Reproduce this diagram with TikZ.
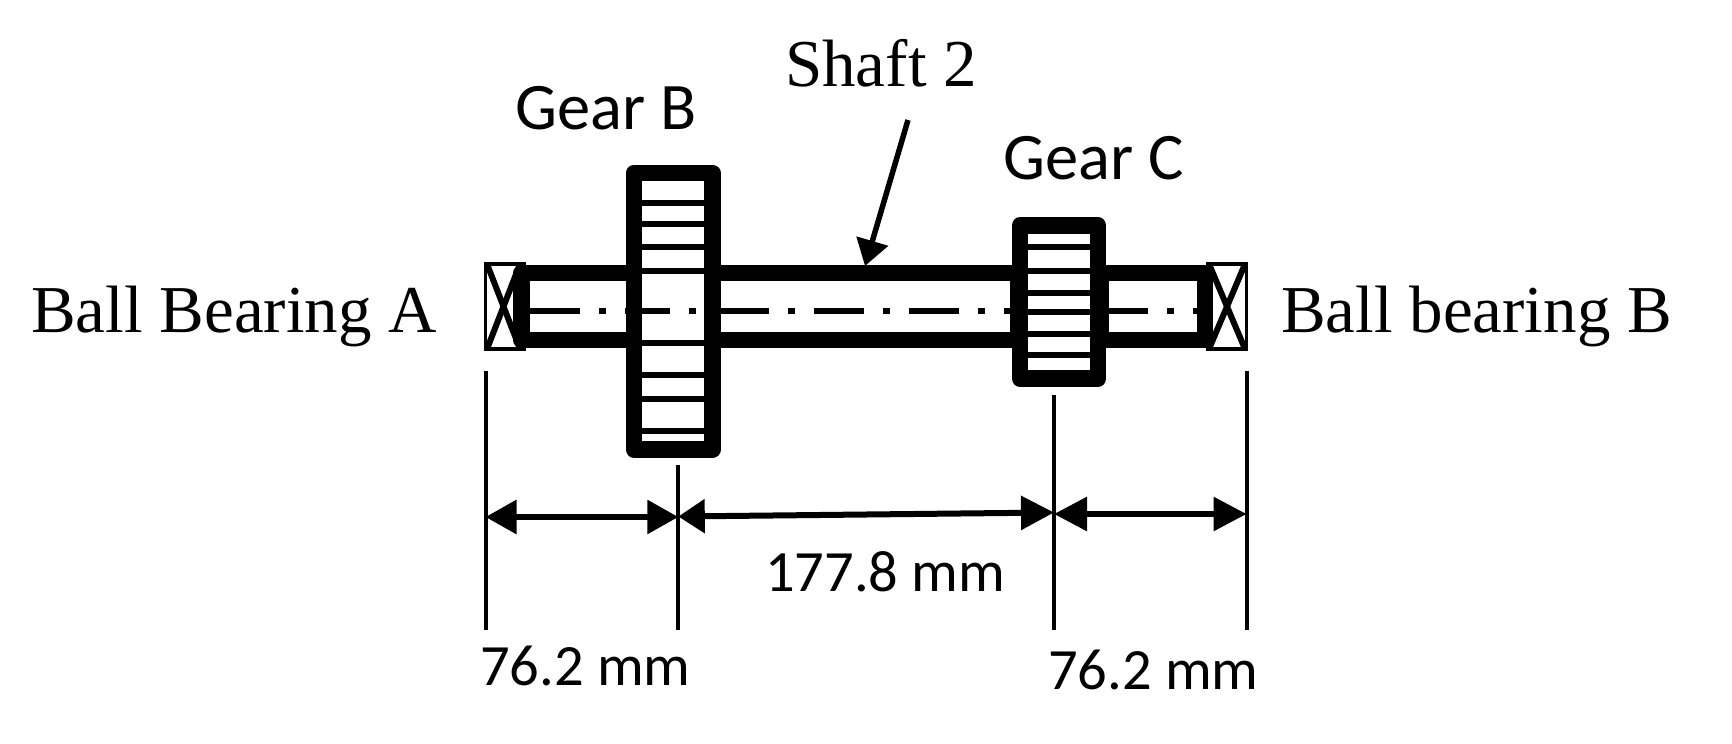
\documentclass[tikz,border=0pt]{standalone}
\usepackage{fontspec}
\setmainfont{Liberation Serif}
\newfontfamily\calibrifont{Carlito}
\usetikzlibrary{arrows.meta}
\tikzset{
	serif label/.style={anchor=base west, inner sep=0, font=\fontsize{67}{70}\selectfont},
	gear label/.style={anchor=base west, inner sep=0, font=\calibrifont\fontsize{66.5}{70}\selectfont},
	dim label/.style={anchor=base west, inner sep=0, font=\calibrifont\fontsize{58.5}{60}\selectfont},
	wall/.style={line width=16.5, line join=round},
	tooth/.style={line width=6},
	witness/.style={line width=4},
	dim line/.style={line width=6, {Triangle[length=#1,width=33]}-{Triangle[length=#1,width=33]}}
}

\begin{document}
\begin{tikzpicture}[x=1pt, y=-1pt]
	\useasboundingbox (0, 0) rectangle (1732, 744);
	%%%%% BEARINGS %%%%%
	\draw[line width=3.5, fill=white] (485.5, 264) rectangle (524.5, 349);
	\draw[line width=6] (487, 264) -- (520, 349);
	\draw[line width=6] (520, 264) -- (487, 349);
	\draw[line width=3.5, fill=white] (1208, 264) rectangle (1246.5, 349);
	\draw[line width=6] (1209, 264) -- (1245, 349);
	\draw[line width=6] (1245, 264) -- (1209, 349);

	%%%%% SHAFT %%%%%
	\draw[wall] (521.5, 273) rectangle (1205, 340);
	\draw[line width=6, dash pattern=on 50 off 19 on 6.7 off 19] (530, 311.3) -- (1197, 311.3);

	%%%%% GEAR B %%%%%
	\draw[wall, fill=white] (634, 173) rectangle (712.5, 449.5);
	\draw[tooth] (642, 203.3) -- (704, 203.3);
	\draw[tooth] (642, 224.3) -- (704, 224.3);
	\draw[tooth] (642, 247.3) -- (704, 247.3);
	\draw[tooth] (642, 271) -- (704, 271);
	\draw[tooth] (642, 311.3) -- (670, 311.3);
	\draw[tooth] (689, 311.3) -- (696, 311.3);
	\draw[tooth] (642, 343.3) -- (704, 343.3);
	\draw[tooth] (642, 375) -- (704, 375);
	\draw[tooth] (642, 399.3) -- (704, 399.3);
	\draw[tooth] (642, 431.3) -- (704, 431.3);

	%%%%% GEAR C %%%%%
	\draw[fill=black, draw=none] (1009.7, 281) rectangle (1109, 332);
	\draw[wall, fill=white] (1020, 225.5) rectangle (1098, 378.5);
	\draw[tooth] (1028, 247.3) -- (1090, 247.3);
	\draw[tooth] (1028, 271) -- (1090, 271);
	\draw[tooth] (1028, 293) -- (1090, 293);
	\draw[tooth] (1028, 311.5) -- (1090, 311.5);
	\draw[tooth] (1028, 334) -- (1090, 334);
	\draw[tooth] (1028, 354.7) -- (1090, 354.7);

	%%%%% DIMENSIONS %%%%%
	\coordinate (leftTop) at (485.5, 371);
	\coordinate (leftBot) at (485.5, 630);
	\coordinate (gearBTop) at (678.3, 465);
	\coordinate (gearBBot) at (678.3, 630);
	\coordinate (gearCTop) at (1054, 395);
	\coordinate (gearCBot) at (1054, 630);
	\coordinate (rightTop) at (1246.5, 371);
	\coordinate (rightBot) at (1246.5, 630);
	\draw[witness] (leftTop) -- (leftBot);
	\draw[witness] (gearBTop) -- (gearBBot);
	\draw[witness] (gearCTop) -- (gearCBot);
	\draw[witness] (rightTop) -- (rightBot);

	\coordinate (dimA) at (485.5, 517);
	\coordinate (dimB) at (678.3, 517);
	\coordinate (dimBb) at (678.3, 516.5);
	\coordinate (dimC) at (1054, 512.5);
	\coordinate (dimCc) at (1054, 514);
	\coordinate (dimD) at (1246.5, 514);
	\draw[dim line=31] (dimA) -- (dimB);
	\draw[line width=6, {Triangle[length=26.5,width=33]}-{Triangle[length=33,width=33]}] (dimBb) -- (dimC);
	\draw[dim line=33] (dimCc) -- (dimD);

	\node[dim label] (dimLeft) at (480, 685) {76.2 mm};
	\node[dim label] (dimMid) at (765, 591) {177.8 mm};
	\node[dim label] (dimRight) at (1048, 689) {76.2 mm};

	%%%%% LABELS %%%%%
	\node[serif label] (bearingA) at (31, 332) {Ball Bearing A};
	\node[serif label] (bearingB) at (1281, 332) {Ball bearing B};
	\node[serif label] (shaftLabel) at (785, 86) {Shaft 2};
	\node[gear label] (gearB) at (515, 129) {Gear B};
	\node[gear label] (gearC) at (1003, 179) {Gear C};

	\coordinate (shaftTail) at (908, 120);
	\coordinate (shaftTip) at (865, 266);
	\draw[line width=5.5, -{Triangle[length=26,width=32]}] (shaftTail) -- (shaftTip);
\end{tikzpicture}
\end{document}
